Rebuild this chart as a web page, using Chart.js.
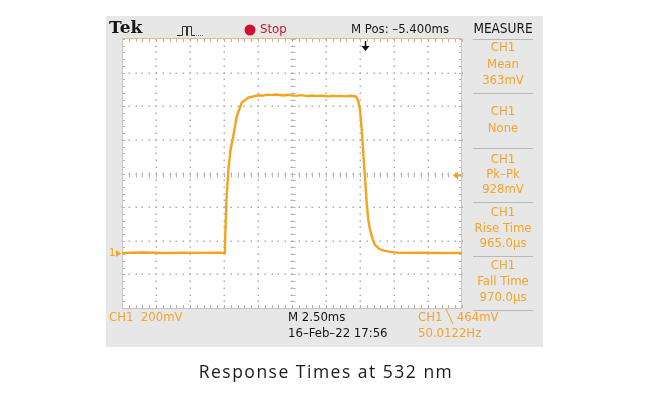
<!DOCTYPE html>
<html><head><meta charset="utf-8">
<script src="https://cdn.jsdelivr.net/npm/chart.js@4.4.1/dist/chart.umd.min.js"></script>
<style>html,body{margin:0;padding:0;background:#fff;}#wrap{position:relative;width:650px;height:405px;}</style>
</head><body><div id="wrap"><canvas id="c" width="650" height="405"></canvas></div>
<script>
// ---- data (time in ms from left edge of screen, CH1 in mV above ground) ----
const timeMs = [0, 1.5, 3.0, 4.5, 6.0, 7.2, 7.50, 7.57, 7.68, 7.82, 7.98, 8.18, 8.43, 8.80, 9.29,
  9.78, 10.1, 10.4, 10.7, 11.0, 11.3, 11.6, 11.9, 12.2, 12.5, 12.8, 13.1, 13.4, 13.7, 14.0, 14.3,
  14.6, 14.9, 15.2, 15.5, 15.8, 16.1, 16.4, 16.7, 17.0, 17.2, 17.35, 17.50, 17.63, 17.74, 17.87,
  17.99, 18.11, 18.24, 18.42, 18.60, 18.90, 19.19, 19.71, 20.4, 22.0, 23.5, 25.0];
const ch1mV = [0, 2, -1, 1, 0, 1, 0, 48, 315, 494, 613, 692, 811, 893, 924,
  933, 937, 935, 941, 938, 942, 939, 936, 940, 937, 934, 938, 935, 933, 936, 932,
  935, 933, 931, 934, 932, 933, 931, 934, 933, 930, 908, 851, 732, 595, 446,
  298, 196, 137, 83, 48, 24, 15, 6, 0, 1, -1, 0];
const voltsPerDivMv = 200;
const timePerDivMs = 2.5;
const triggerLevelMv = 464;
const triggerTimeMs = 17.87;
const measureBlocks = [["CH1", "Mean", "363mV"], ["CH1", "None"], ["CH1", "Pk\u2013Pk", "928mV"],
  ["CH1", "Rise Time", "965.0\u00b5s"], ["CH1", "Fall Time", "970.0\u00b5s"]];
const caption = "Response Times at 532 nm";

const ORANGE = '#f5a31e';
const TXT_OR = '#f2a52a';
const COND = '"DejaVu Sans Condensed", "DejaVu Sans", sans-serif';
const yMin = -328, yMax = yMin + 8 * voltsPerDivMv;

const scopePlugin = {
  id: 'scope',
  beforeDraw(chart) {
    const ctx = chart.ctx, ca = chart.chartArea;
    ctx.save();
    ctx.fillStyle = '#ffffff'; ctx.fillRect(0, 0, chart.width, chart.height);
    ctx.fillStyle = '#e7e7e7'; ctx.fillRect(106, 16, 437, 331);
    ctx.fillStyle = '#ffffff'; ctx.fillRect(ca.left, ca.top, ca.right - ca.left, ca.bottom - ca.top);
    ctx.restore();
  },
  beforeDatasetsDraw(chart) {
    const ctx = chart.ctx, ca = chart.chartArea;
    const xs = chart.scales.x, ys = chart.scales.y;
    const xt = xs.ticks.map(t => t.value), yt = ys.ticks.map(t => t.value);
    ctx.save();
    ctx.fillStyle = '#adadad';
    const minor = (arr) => { const out = []; for (let j = 0; j < arr.length - 1; j++) for (let k = 0; k < 5; k++) out.push(arr[j] + (arr[j + 1] - arr[j]) * k / 5); out.push(arr[arr.length - 1]); return out; };
    const ym = minor(yt), xm = minor(xt);
    for (let i = 1; i < xt.length - 1; i++) {
      const px = Math.round(xs.getPixelForValue(xt[i]));
      ym.forEach(v => { const py = Math.round(ys.getPixelForValue(v)); ctx.fillRect(px - 0.5, py - 0.5, 1.5, 1.5); });
    }
    for (let i = 1; i < yt.length - 1; i++) {
      const py = Math.round(ys.getPixelForValue(yt[i]));
      xm.forEach(v => { const px = Math.round(xs.getPixelForValue(v)); ctx.fillRect(px - 0.5, py - 0.5, 1.5, 1.5); });
    }
    // centre line tick marks
    ctx.strokeStyle = '#b4b4b4'; ctx.lineWidth = 1;
    const cx = Math.round(xs.getPixelForValue(xt[5])) + 0.5, cy = Math.round(ys.getPixelForValue(yt[4])) + 0.5;
    ctx.beginPath();
    ym.forEach(v => { const py = Math.round(ys.getPixelForValue(v)) + 0.5; ctx.moveTo(cx - 2, py); ctx.lineTo(cx + 3, py); });
    xm.forEach(v => { const px = Math.round(xs.getPixelForValue(v)) + 0.5; ctx.moveTo(px, cy - 2); ctx.lineTo(px, cy + 3); });
    // border ticks
    ym.forEach(v => { const py = Math.round(ys.getPixelForValue(v)) + 0.5; ctx.moveTo(ca.left, py); ctx.lineTo(ca.left + 3, py); ctx.moveTo(ca.right - 3, py); ctx.lineTo(ca.right, py); });
    xm.forEach(v => { const px = Math.round(xs.getPixelForValue(v)) + 0.5; ctx.moveTo(px, ca.bottom - 3); ctx.lineTo(px, ca.bottom); ctx.moveTo(px, ca.top); ctx.lineTo(px, ca.top + 3); });
    ctx.stroke();
    // border
    ctx.strokeStyle = '#c6c6c6';
    ctx.beginPath();
    ctx.moveTo(ca.left + 0.5, ca.top); ctx.lineTo(ca.left + 0.5, ca.bottom + 0.5); ctx.lineTo(ca.right - 0.5, ca.bottom + 0.5); ctx.lineTo(ca.right - 0.5, ca.top);
    ctx.stroke();
    ctx.strokeStyle = '#f0b878';
    ctx.beginPath(); ctx.moveTo(ca.left, ca.top - 0.5); ctx.lineTo(ca.right, ca.top - 0.5); ctx.stroke();
    ctx.restore();
  },
  afterDraw(chart) {
    const ctx = chart.ctx, ca = chart.chartArea;
    const xs = chart.scales.x, ys = chart.scales.y;
    ctx.save();
    ctx.textBaseline = 'middle';
    // header
    ctx.fillStyle = '#151515'; ctx.textAlign = 'left';
    ctx.font = 'bold 17px "DejaVu Serif", serif';
    ctx.fillText('Tek', 109, 29);
    // acquisition icon
    ctx.strokeStyle = '#333'; ctx.lineWidth = 1;
    ctx.beginPath();
    ctx.moveTo(177, 35.5); ctx.lineTo(182.5, 35.5); ctx.lineTo(182.5, 26.5); ctx.lineTo(186.5, 26.5); ctx.lineTo(186.5, 35.5);
    ctx.lineTo(187.5, 35.5); ctx.lineTo(187.5, 26.5); ctx.lineTo(191.5, 26.5); ctx.lineTo(191.5, 35.5); ctx.lineTo(195, 35.5);
    ctx.stroke();
    ctx.fillStyle = '#666';
    for (let x = 196; x < 203; x += 2) ctx.fillRect(x, 35, 1, 1);
    // stop indicator
    ctx.fillStyle = '#d0102e';
    ctx.beginPath(); ctx.arc(250, 30, 5.5, 0, Math.PI * 2); ctx.fill();
    ctx.font = '13px ' + COND; ctx.fillStyle = '#c8102e';
    ctx.fillText('Stop', 260, 30);
    ctx.fillStyle = '#151515';
    ctx.fillText('M Pos: \u20135.400ms', 351, 30);
    ctx.textAlign = 'center';
    ctx.font = '500 13.5px ' + COND;
    ctx.fillText('MEASURE', 503, 29);
    // measure panel
    ctx.strokeStyle = '#b9b9b9'; ctx.lineWidth = 1;
    [39, 93, 148, 202, 256, 310].forEach(y => { ctx.beginPath(); ctx.moveTo(473, y + 0.5); ctx.lineTo(533, y + 0.5); ctx.stroke(); });
    const rowY = [[48, 65, 81], [112, 129], [160, 175, 190], [213, 229, 244], [266, 282, 298]];
    ctx.fillStyle = TXT_OR;
    ctx.font = '13px ' + COND;
    measureBlocks.forEach((b, i) => b.forEach((s, j) => ctx.fillText(s, 503, rowY[i][j])));
    // bottom status
    ctx.textAlign = 'left';
    ctx.fillText('CH1  200mV', 109, 318);
    ctx.fillText('CH1 \u2572 464mV', 418, 318);
    ctx.fillText('50.0122Hz', 418, 334);
    ctx.fillStyle = '#151515';
    ctx.fillText('M 2.50ms', 288, 318);
    ctx.fillText('16\u2013Feb\u201322 17:56', 288, 334);
    // ground marker
    const gy = Math.round(ys.getPixelForValue(0)) + 0.5;
    ctx.fillStyle = ORANGE; ctx.font = '11px ' + COND;
    ctx.fillText('1', 109, gy);
    ctx.beginPath(); ctx.moveTo(116, gy - 3.5); ctx.lineTo(121, gy); ctx.lineTo(116, gy + 3.5); ctx.closePath(); ctx.fill();
    // trigger level arrow
    const ty = Math.round(ys.getPixelForValue(triggerLevelMv)) + 0.5;
    ctx.beginPath(); ctx.moveTo(453, ty); ctx.lineTo(458, ty - 4); ctx.lineTo(458, ty + 4); ctx.closePath(); ctx.fill();
    ctx.fillRect(457, ty - 1, 4, 2);
    // trigger position arrow
    const tx = Math.round(xs.getPixelForValue(triggerTimeMs)) + 0.5;
    ctx.fillStyle = '#111'; ctx.strokeStyle = '#111'; ctx.lineWidth = 1.5;
    ctx.beginPath(); ctx.moveTo(tx, ca.top + 2); ctx.lineTo(tx, ca.top + 8); ctx.stroke();
    ctx.beginPath(); ctx.moveTo(tx - 4, ca.top + 7); ctx.lineTo(tx + 4, ca.top + 7); ctx.lineTo(tx, ca.top + 12); ctx.closePath(); ctx.fill();
    // caption
    ctx.fillStyle = '#1a1a1a'; ctx.textAlign = 'center';
    ctx.font = '17.5px "Open Sans", sans-serif';
    try { ctx.letterSpacing = '1.5px'; } catch (e) {}
    ctx.fillText(caption, 326, 373);
    ctx.restore();
  }
};

new Chart(document.getElementById('c'), {
  type: 'line',
  data: { datasets: [{ data: timeMs.map((t, i) => ({ x: t, y: ch1mV[i] })), borderColor: ORANGE, borderWidth: 2.4, pointRadius: 0, tension: 0, fill: false }] },
  options: {
    responsive: false, animation: false, events: [],
    layout: { padding: { left: 122, right: 188, top: 39, bottom: 97 } },
    plugins: { legend: { display: false }, tooltip: { enabled: false } },
    scales: {
      x: { type: 'linear', min: 0, max: 10 * timePerDivMs, ticks: { display: false, stepSize: timePerDivMs }, grid: { display: false, drawTicks: false }, border: { display: false }, afterFit: s => { s.height = 0; } },
      y: { type: 'linear', min: yMin, max: yMax, ticks: { display: false }, grid: { display: false, drawTicks: false }, border: { display: false },
        afterBuildTicks: s => { s.ticks = Array.from({ length: 9 }, (_, k) => ({ value: yMin + k * voltsPerDivMv })); },
        afterFit: s => { s.width = 0; } }
    }
  },
  plugins: [scopePlugin]
});
</script></body></html>
